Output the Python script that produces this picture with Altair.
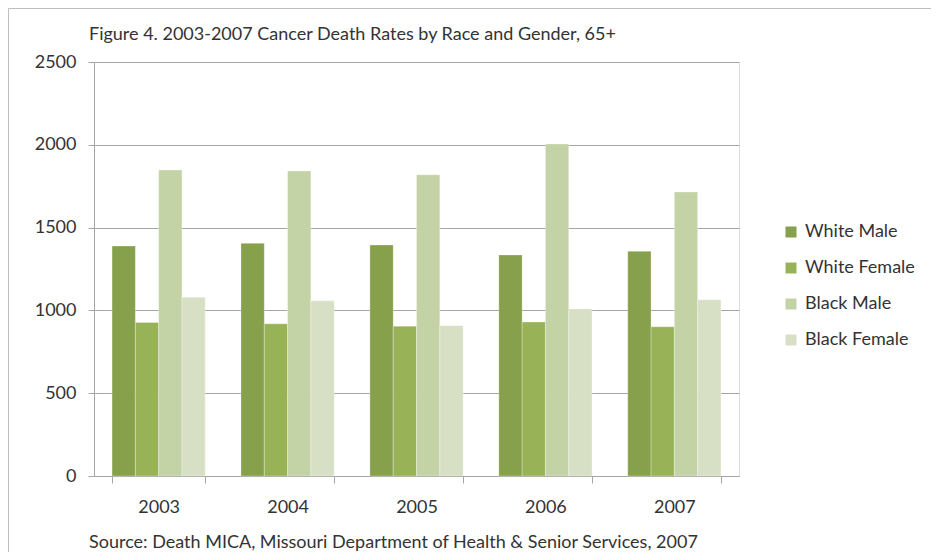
import altair as alt
import pandas as pd

years = ["2003", "2004", "2005", "2006", "2007"]
series = ["White Male", "White Female", "Black Male", "Black Female"]
white_male = [1389, 1405, 1395, 1335, 1357]
white_female = [927, 919, 905, 930, 901]
black_male = [1848, 1842, 1819, 2005, 1715]
black_female = [1080, 1058, 908, 1009, 1064]
colors = ["#86A04B", "#98B357", "#C3D3A5", "#D7E0C4"]

title_text = "Figure 4. 2003-2007 Cancer Death Rates by Race and Gender, 65+"
source_text = "Source: Death MICA, Missouri Department of Health & Senior Services, 2007"

rows = []
for name, vals in zip(series, [white_male, white_female, black_male, black_female]):
    for y, v in zip(years, vals):
        rows.append({"Year": y, "Series": name, "Rate": v})
df = pd.DataFrame(rows)

FONT = "Lato"
FS = 18
TXT = "#333333"
W, H = 645, 414

bars = alt.Chart(df).mark_bar(stroke="#ffffff", strokeWidth=0.6, strokeOpacity=0.5).encode(
    x=alt.X("Year:N", sort=years, title=None,
            scale=alt.Scale(paddingInner=0.277, paddingOuter=0.14),
            axis=alt.Axis(labelAngle=0, tickBand="extent", tickSize=7, tickColor="#A6A6A6",
                          domainColor="#A6A6A6", labelPadding=15, labelFontSize=FS,
                          labelColor=TXT, labelFont=FONT, grid=False)),
    xOffset=alt.XOffset("Series:N", sort=series, scale=alt.Scale(paddingInner=0, paddingOuter=0)),
    y=alt.Y("Rate:Q", title=None,
            scale=alt.Scale(domain=[0, 2500], nice=False),
            axis=alt.Axis(values=[0, 500, 1000, 1500, 2000, 2500], format="d", tickSize=6,
                          tickColor="#A6A6A6", domainColor="#A6A6A6", gridColor="#A6A6A6",
                          labelPadding=12, labelFontSize=FS, labelColor=TXT,
                          labelFont=FONT)),
    color=alt.Color("Series:N", sort=series,
                    scale=alt.Scale(domain=series, range=colors),
                    legend=alt.Legend(title=None, orient="none", legendX=688, legendY=161,
                                      symbolType="square", symbolSize=121,
                                      symbolStrokeWidth=0, labelFontSize=FS,
                                      labelFont=FONT, labelColor=TXT,
                                      rowPadding=18, labelOffset=5)),
)

title = alt.Chart(pd.DataFrame({"t": [title_text]})).mark_text(
    align="left", baseline="middle", fontSize=FS, font=FONT, color=TXT
).encode(text="t:N", x=alt.value(-5), y=alt.value(-27))

source = alt.Chart(pd.DataFrame({"t": [source_text]})).mark_text(
    align="left", baseline="middle", fontSize=FS, font=FONT, color=TXT
).encode(text="t:N", x=alt.value(-5), y=alt.value(481))

border_left = alt.Chart(pd.DataFrame({"a": [0]})).mark_rule(color="#BFBFBF", strokeWidth=1).encode(
    x=alt.value(-85.5), y=alt.value(-53.5), y2=alt.value(600))
border_top = alt.Chart(pd.DataFrame({"a": [0]})).mark_rule(color="#BFBFBF", strokeWidth=1).encode(
    x=alt.value(-85.5), x2=alt.value(900), y=alt.value(-53.5))

chart = alt.layer(border_left, border_top, bars, title, source).properties(
    width=W, height=H,
    autosize=alt.AutoSizeParams(type="none"),
    padding={"left": 86, "top": 54, "right": 192, "bottom": 76},
).configure_view(stroke=None).configure(background="#ffffff")

chart.save("out.html", embed_options={"renderer": "svg", "actions": False})
